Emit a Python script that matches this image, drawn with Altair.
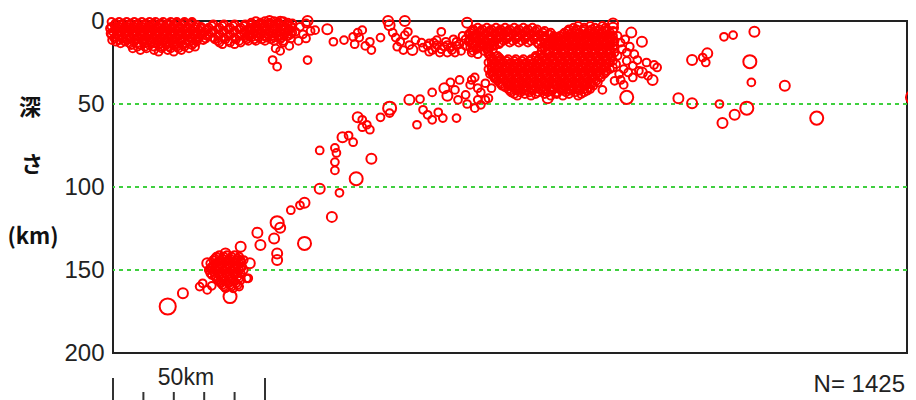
import altair as alt
import pandas as pd

# ---- data (x: distance along section in km, depth in km, m: size class) ----
# dense clusters, read row by row (depth: list of x positions)
blob_a = {
    0.5: [-0.5, 2, 4.5, 7, 9.5, 12, 14, 16.5, 19, 21, 23.5, 26],
    1.5: [0.8, 3.3, 5.8, 8.3, 10.8, 13.3, 15.8, 18.3, 20.8, 23.3, 25.8],
    2.5: [0.5, 3, 5.5, 8, 10.5, 13, 15.5, 18, 20, 22.5, 25, 27.5],
    3.5: [-0.5, 2, 4.5, 7, 9.5, 12, 14.5, 17, 19.5, 22, 24.5, 27, 29],
    4.5: [-1, 1.5, 4, 6.5, 9, 11.5, 14, 16.5, 19, 21.5, 24, 26.5, 29],
    5.5: [0.8, 3.3, 5.8, 8.3, 10.8, 13.3, 15.8, 18.3, 20.8, 23.3, 25.8, 28.3, 30.5],
    6.5: [0, 2.5, 5, 7.5, 10, 12.5, 15, 17.5, 20, 22.5, 25, 27.5, 30],
    7.5: [-0.8, 1.5, 4, 6.5, 9, 11.5, 14, 16.5, 19, 21.5, 24, 26.5, 29],
    8.5: [-0.5, 2, 4.5, 7, 9.5, 12, 14.5, 17, 19.5, 22, 24.5, 27, 29.5],
    9.5: [0.8, 3.3, 5.8, 8.3, 10.8, 13.3, 15.8, 18.3, 20.8, 23.3, 25.8, 28.3],
    10.5: [0.5, 3, 5.5, 8, 10.5, 13, 15.5, 18, 20.5, 23, 25.5, 28, 30.5],
    11.5: [-0.3, 2.2, 4.7, 7.2, 9.7, 12.2, 14.7, 17.2, 19.7, 22.2, 24.7, 27.2, 29.7],
    12.5: [1, 4, 7, 10, 12.5, 15, 17.5, 20, 22.5, 25, 27.5],
    13.5: [2.5, 5.5, 8, 10.5, 13.5, 16, 18.5, 21, 24, 26.5],
    14.5: [6, 9, 12, 15, 17.5, 20, 23, 26],
    15.5: [8, 10.5, 13.5, 16, 18.5, 21, 23.5, 27],
    16.5: [6.5, 11, 16, 19, 21.5, 25],
    17.5: [9, 13.5, 18, 22.5],
    18.5: [15, 20],
}
blob_a2 = {
    2: [33, 36.5, 40, 43.5],
    3: [32.5, 36, 39.5, 43],
    4: [31.5, 35, 38.5, 42, 45],
    5: [31, 34.5, 38, 41.5, 44.5],
    6: [33, 36.5, 40, 43.5],
    7: [32.5, 36, 39.5, 43],
    8: [31.5, 35, 38.5, 42, 45],
    9: [31, 34.5, 38, 41.5, 44.5],
    10: [33, 36.5, 40, 43.5],
    11: [33.5, 37, 40.5, 44],
    12: [34.5, 38, 41.5, 44.5],
    13: [35, 38.5, 42],
    14: [36, 40],
}
blob_b = {
    0: [47, 50, 53, 56],
    1: [45.5, 48.5, 51.5, 54.5, 57.5],
    2: [45.5, 48.5, 51.5, 54.5, 57.5],
    3: [47, 50, 53, 56, 58.5],
    4: [46.5, 49, 51.5, 54, 56.5, 59],
    5: [45.5, 48, 50.5, 53, 55.5, 58],
    6: [45, 47.5, 50, 52.5, 55, 57.5],
    7: [46.5, 49, 51.5, 54, 56.5, 59],
    8: [46, 48.5, 51, 53.5, 56, 58.5],
    9: [45, 47.5, 50, 52.5, 55, 57.5],
    10: [45.5, 48, 50.5, 53, 55.5],
    11: [46.5, 49, 52, 55],
    12: [47, 50, 53, 56],
}
band_d = {
    4: [120, 123, 126, 129, 132, 135, 138],
    5: [118.5, 121.5, 124.5, 127.5, 130.5, 133.5, 136.5, 139.5],
    6: [118, 121, 124, 127, 130, 133, 136, 139, 142],
    7: [117.5, 120.5, 123.5, 126.5, 129.5, 132.5, 135.5, 138.5, 141.5, 144],
    8: [117, 119.5, 122.5, 125.5, 128.5, 131.5, 134.5, 137.5, 140.5, 143.5],
    9: [118.5, 121, 124, 127, 130, 133, 136, 139, 142, 145],
    10: [118, 121, 124, 127, 130, 133, 136, 139, 142, 145],
    11: [117.5, 120.5, 123.5, 126.5, 129.5, 132.5, 135.5, 138.5, 141.5, 144.5],
    12: [117, 119.5, 122.5, 125.5, 128.5, 131.5, 134.5, 137.5, 140.5, 143.5],
    13: [118.5, 121.5, 124.5, 127.5, 130.5, 133.5, 136.5, 139.5, 142, 145],
    14: [118, 121, 124, 127, 140, 143],
    15: [119, 122, 125.5, 142.5],
    16: [117.5, 120.5, 124, 141],
    17: [119.5, 123],
    18: [118.5, 122],
}
upper_d = {
    3: [153, 157, 161],
    4: [151.5, 155, 158.5, 162],
    5: [150, 152.5, 155, 157.5, 160, 162.5],
    6: [149.5, 152, 154.5, 157, 159.5, 162, 164.5],
    7: [148.5, 151, 153.5, 156, 158.5, 161, 163.5],
    8: [148, 150.5, 153, 155.5, 158, 160.5, 163],
    9: [147, 149.5, 152, 154.5, 157, 159.5, 162, 164.5],
    10: [146.5, 149, 151.5, 154, 156.5, 159, 161.5, 164],
    11: [145.5, 148, 150.5, 153, 155.5, 158, 160.5, 163],
    12: [145, 147.5, 150, 152.5, 155, 157.5, 160, 162.5, 165],
    13: [144.5, 147, 149.5, 152, 154.5, 157, 159.5, 162, 164.5],
    14: [143.5, 146, 148.5, 151, 153.5, 156, 158.5, 161, 163.5],
    15: [143, 145.5, 148, 150.5, 153, 155.5, 158, 160.5, 163],
    16: [142, 144.5, 147, 149.5, 152, 154.5, 157, 159.5, 162, 164.5],
}
lower_d = {
    17: [146, 148.5, 151, 153.5, 156, 158.5, 161, 163.5],
    18: [141, 143.5, 146, 148.5, 151, 153.5, 156, 158.5, 161, 163.5],
    19: [142.5, 145, 147.5, 150, 152.5, 155, 157.5, 160, 162.5, 165],
    20: [123.5, 140.5, 143, 145.5, 148, 150.5, 153, 155.5, 158, 160.5, 163],
    21: [124, 126.5, 139, 141.5, 144, 146.5, 149, 151.5, 154, 156.5, 159, 161.5, 164],
    22: [124.5, 127, 139, 141.5, 144, 146.5, 149, 151.5, 154, 156.5, 159, 161.5, 164],
    23: [125, 127.5, 130, 132.5, 135, 137.5, 140, 142.5, 145, 147.5, 150, 152.5, 155, 157.5, 160, 162.5],
    24: [124.5, 127, 129.5, 132, 134.5, 137, 139.5, 142, 144.5, 147, 149.5, 152, 154.5, 157, 159.5, 162, 164.5],
    25: [123.5, 126, 128.5, 131, 133.5, 136, 138.5, 141, 143.5, 146, 148.5, 151, 153.5, 156, 158.5, 161, 163.5],
    26: [125, 127.5, 130, 132.5, 135, 137.5, 140, 142.5, 145, 147.5, 150, 152.5, 155, 157.5, 160, 162.5],
    27: [124.5, 127, 129.5, 132, 134.5, 137, 139.5, 142, 144.5, 147, 149.5, 152, 154.5, 157, 159.5, 162],
    28: [124.5, 127, 129.5, 132, 134.5, 137, 139.5, 142, 144.5, 147, 149.5, 152, 154.5, 157, 159.5, 162, 164.5],
    29: [123.5, 126, 128.5, 131, 133.5, 136, 138.5, 141, 143.5, 146, 148.5, 151, 153.5, 156, 158.5, 161, 163.5],
    30: [125, 127.5, 130, 132.5, 135, 137.5, 140, 142.5, 145, 147.5, 150, 152.5, 155, 157.5, 160, 162.5],
    31: [124.5, 127, 129.5, 132, 134.5, 137, 139.5, 142, 144.5, 147, 149.5, 152, 154.5, 157, 159.5, 162],
    32: [124, 126.5, 129, 131.5, 134, 136.5, 139, 141.5, 144, 146.5, 149, 151.5, 154, 156.5, 159, 161.5],
    33: [125, 127.5, 130, 132.5, 135, 137.5, 140, 142.5, 145, 147.5, 150, 152.5, 155, 157.5, 160],
    34: [125.5, 128, 130.5, 133, 135.5, 138, 140.5, 143, 145.5, 148, 150.5, 153, 155.5, 158, 160.5],
    35: [126, 128.5, 131, 133.5, 136, 138.5, 141, 143.5, 146, 148.5, 151, 153.5, 156, 158.5],
    36: [126.5, 129, 131.5, 134, 136.5, 139, 141.5, 144, 146.5, 149, 151.5, 154, 156.5, 159],
    37: [127, 129.5, 132, 134.5, 137, 139.5, 142, 144.5, 147, 149.5, 152, 154.5, 157, 159.5],
    38: [127.5, 130, 132.5, 135, 137.5, 140, 142.5, 145, 147.5, 150, 152.5, 155, 157.5],
    39: [128, 130.5, 133, 135.5, 138, 140.5, 143, 145.5, 148, 150.5, 153, 155.5, 158],
    40: [129, 131.5, 134, 136.5, 139, 141.5, 144, 146.5, 149, 151.5, 154, 156.5],
    41: [130, 132.5, 135, 137.5, 140, 142.5, 145, 147.5, 150, 152.5, 155, 157],
    42: [130.5, 133, 135.5, 138, 141.5, 144.5, 147.5, 150.5, 153.5, 156],
    43: [131, 134, 137, 140, 143, 146, 149, 152, 155],
    44: [132, 135.5, 139, 142, 146, 150, 154],
    45: [133, 137.5, 144, 148, 153],
}
slab_core = {
    141: [35, 37.5, 40],
    142: [34, 36.5, 39, 41.5],
    143: [33.5, 36, 38.5, 41],
    144: [33, 35.5, 38, 40.5, 43],
    145: [34.5, 37, 39.5, 42],
    146: [32, 34, 36.5, 39, 41.5],
    147: [33, 35.5, 38, 40.5],
    148: [32.5, 35, 37.5, 40, 42.5],
    149: [32, 34.5, 37, 39.5, 42],
    150: [31.5, 34, 36.5, 39, 41.5],
    151: [33, 35.5, 38, 40.5],
    152: [32, 34.5, 37, 39.5, 42],
    153: [32.5, 35, 37.5, 40],
    154: [33.5, 36, 38.5, 41],
    155: [34, 36.5, 39, 41.5],
    156: [34.5, 37, 39.5, 42],
    157: [35, 37.5, 40],
    158: [35.5, 38, 40.5],
    159: [36, 38.5, 41],
    160: [36.5, 39, 41.5],
    161: [37, 39.5],
}

# individual events: x km, depth km, size class
shallow_x = [59, 61.5, 63.5, 60, 62.5, 65, 58.5, 61, 63.5, 56, 58, 57.5, 53.5, 55, 52.5, 54, 64,
             64, 66.5, 70.5, 72.5, 76, 79, 80.5, 82, 79.5, 84.5, 85, 83, 81, 88, 90.5, 91,
             92, 93, 94.5, 96, 97.5, 98.5, 95.5, 93.5, 99.5, 97, 96,
             103.5, 105, 106.5, 108, 110, 111.5, 113, 107.5, 105.5, 108, 110, 113, 116.5,
             115, 117, 118, 119.5, 121, 122.5, 123.5, 118.5, 51.5, 55,
             102, 104, 106, 109, 111, 112.5, 114, 109.5, 104, 101.5, 106.5, 116, 114.5,
             116, 112, 125, 126, 125, 127.5, 124, 120]
shallow_d = [1.5, 3.5, 1.5, 6.5, 8, 6, 10.5, 12, 10.5, 13, 15, 9, 16.5, 18, 23.5, 27.5, 23.5,
             0, 5.5, 5, 12.5, 11.5, 9.5, 7, 5.5, 14, 12.5, 17.5, 15, 10, 10, 0, 2.5,
             7, 10, 12.5, 8.5, 14.5, 17.5, 17.5, 15.5, 11.5, 6.5, 0,
             15, 17.5, 14.5, 17, 14.5, 17.5, 15, 19, 13, 6.5, 19, 12.5, 1,
             9, 12.5, 19, 10, 15.5, 11.5, 18.5, 5.5, 0, 0.5,
             16, 18.5, 16, 15.5, 16, 19, 14, 12.5, 13.5, 13, 11.5, 15, 18,
             11, 11, 14.5, 9, 17, 6.5, 6, 20]
shallow_m = [1, 1, 1, 1, 1, 1, 1, 1, 1, 1, 1, 1, 1, 1, 1, 1, 1,
             2, 1, 2, 1, 1, 1, 1, 1, 1, 1, 1, 1, 1, 1, 2, 2,
             1, 1, 1, 1, 1, 2, 1, 1, 1, 1, 2,
             1, 1, 1, 1, 1, 1, 1, 1, 1, 1, 1, 1, 2,
             1, 1, 1, 1, 1, 1, 1, 1, 2, 2,
             1, 1, 1, 1, 1, 1, 1, 1, 1, 1, 1, 1, 1,
             1, 1, 1, 1, 1, 1, 1, 1]

right_x = [164.5, 164.5, 170.5, 174, 167, 169, 172.5, 175.5, 178, 179, 174, 176, 177.5, 171, 167, 169, 168, 161,
           166, 168.5, 165, 167.5, 170, 166, 169, 171.5, 165.5, 168, 171, 166.5, 169.5, 165, 173,
           143, 190.5, 195.5, 195, 194, 201, 204, 211, 209.5, 210, 221, 186, 190.5, 199.5, 200.5,
           204.5, 208.5, 231.5, 263]
right_d = [4, 1.5, 7, 12.5, 13, 19, 23.5, 25, 26.5, 28, 31, 33, 35.5, 34, 35.5, 46, 38.5, 41.5,
           9, 11, 15, 17, 15.5, 21, 24, 20, 26, 29, 27, 32, 31, 36, 30,
           46.5, 23.5, 19.5, 25, 22, 9.5, 8.5, 6.5, 24.5, 37, 39, 46.5, 49.5, 50, 61.5,
           56.5, 52.5, 58.5, 46]
right_m = [2, 2, 2, 2, 1, 1, 1, 1, 1, 1, 2, 1, 2, 1, 1, 3, 1, 1,
           1, 1, 1, 1, 1, 1, 1, 1, 1, 1, 1, 1, 1, 1, 1,
           2, 2, 2, 1, 1, 1, 1, 2, 3, 1, 2, 2, 2, 1, 2,
           2, 3, 3, 3]

slab_x = [105, 111, 112.5, 114, 116, 117.5, 119, 121, 122.5, 123.5, 120, 116.5, 113.5, 110, 109, 124.5, 125.5,
          118, 120, 122.5, 119, 121,
          97.5, 91, 100, 102, 103.5, 105, 107, 108.5, 113, 101,
          80.5, 82, 83.5, 84.5, 82, 88, 91,
          75.5, 77.5, 79,
          68, 73, 73.5, 73, 73,
          85, 80, 74.5, 68, 72, 63, 58.5, 61.5, 63,
          54, 55, 53, 54, 54,
          47.5, 48.5, 42, 44.5, 45,
          31, 28.5, 29.5, 31, 32.5, 38.5, 44, 37, 43, 42, 23, 18]
slab_d = [43, 37, 41.5, 35.5, 44.5, 38.5, 34, 43, 37.5, 46.5, 47.5, 50, 47.5, 45, 40.5, 40.5, 34.5,
          35.5, 40.5, 47.5, 52.5, 50.5,
          47.5, 55.5, 62.5, 53.5, 56.5, 59.5, 55, 58.5, 58.5, 47,
          58, 59.5, 62.5, 65.5, 64, 58, 52.5,
          70, 69, 73,
          78, 76.5, 79.5, 85, 90,
          83, 95, 103.5, 101, 118, 109.5, 114, 111, 134,
          121.5, 124.5, 131, 140, 144,
          127.5, 135, 136, 155, 146,
          146, 160, 158, 162, 159.5, 166, 155, 140, 150, 144, 164, 172]
slab_m = [1, 1, 1, 1, 1, 1, 1, 1, 1, 1, 1, 1, 1, 2, 2, 1, 1,
          1, 1, 1, 1, 1,
          2, 1, 1, 1, 1, 1, 1, 1, 1, 1,
          2, 1, 1, 1, 1, 1, 3,
          2, 1, 1,
          1, 1, 1, 1, 1,
          2, 3, 1, 2, 2, 2, 1, 1, 3,
          3, 2, 2, 2, 2,
          2, 2, 2, 1, 2,
          2, 1, 1, 1, 1, 3, 1, 2, 1, 1, 2, 4]

grid_depths = [50, 100, 150]
axis_depths = [0, 50, 100, 150, 200]
bar_major = [0, 50]
bar_minor = [10, 20, 30, 40]
total_label = "N= 1425"
bar_label = "50km"
y_title = ["深", "さ", "(km)"]

# ---- build table ----
records = []
for rows in (blob_a, blob_a2, blob_b, band_d, upper_d, lower_d, slab_core):
    for d, xs in rows.items():
        for x in xs:
            records.append({"x": x, "depth": d, "m": 1})
for xs, ds, ms in ((shallow_x, shallow_d, shallow_m), (right_x, right_d, right_m), (slab_x, slab_d, slab_m)):
    for x, d, m in zip(xs, ds, ms):
        records.append({"x": x, "depth": d, "m": m})
df = pd.DataFrame(records)

xscale = alt.Scale(domain=[0, 261.2], nice=False, zero=False)
yscale = alt.Scale(domain=[0, 200], reverse=True, nice=False, zero=False)

grid = alt.Chart(pd.DataFrame({"depth": grid_depths})).mark_rule(
    color="#3fcf3f", strokeDash=[4, 4], strokeWidth=2
).encode(y=alt.Y("depth:Q", scale=yscale))

points = alt.Chart(df).mark_point(
    shape="circle", filled=False, color="#ff0000", strokeWidth=2, opacity=1
).encode(
    x=alt.X("x:Q", scale=xscale, axis=None),
    y=alt.Y("depth:Q", scale=yscale, axis=alt.Axis(
        values=axis_depths, title=None, grid=False, ticks=False, domain=False,
        labelFontSize=24, labelFont="Liberation Sans", labelColor="#222",
        labelPadding=9)),
    size=alt.Size("m:Q", scale=alt.Scale(domain=[1, 2, 3, 4], range=[60, 100, 170, 260]), legend=None),
)

major = alt.Chart(pd.DataFrame({"x": bar_major})).mark_rule(color="#333", strokeWidth=2).encode(
    x=alt.X("x:Q", scale=xscale), y=alt.value(357), y2=alt.value(380))
minor = alt.Chart(pd.DataFrame({"x": bar_minor})).mark_rule(color="#333", strokeWidth=2).encode(
    x=alt.X("x:Q", scale=xscale), y=alt.value(371), y2=alt.value(380))

bar_text = alt.Chart(pd.DataFrame({"x": [24], "t": [bar_label]})).mark_text(
    font="Liberation Sans", fontSize=23, color="#222", baseline="alphabetic", align="center"
).encode(x=alt.X("x:Q", scale=xscale), y=alt.value(364), text="t:N")

n_text = alt.Chart(pd.DataFrame({"t": [total_label]})).mark_text(
    font="Liberation Sans", fontSize=24, color="#222", baseline="alphabetic", align="right"
).encode(x=alt.value(792), y=alt.value(371), text="t:N")

title_df = pd.DataFrame({"t": y_title, "px": [-83, -81, -80], "py": [87, 144, 216]})
title_text = alt.Chart(title_df).mark_text(
    font="Noto Sans CJK JP", fontSize=22, fontWeight="bold", color="#111",
    baseline="middle", align="center"
).encode(x=alt.X("px:Q", scale=None), y=alt.Y("py:Q", scale=None), text="t:N")

chart = alt.layer(grid, points, major, minor, bar_text, n_text, title_text).properties(
    width=794, height=332,
    padding={"left": 105, "top": 13, "right": 1, "bottom": 47},
    autosize=alt.AutoSizeParams(type="none"),
).configure_view(stroke="#222", strokeWidth=2)

chart.save("out.html", embed_options={"renderer": "svg", "actions": False})
